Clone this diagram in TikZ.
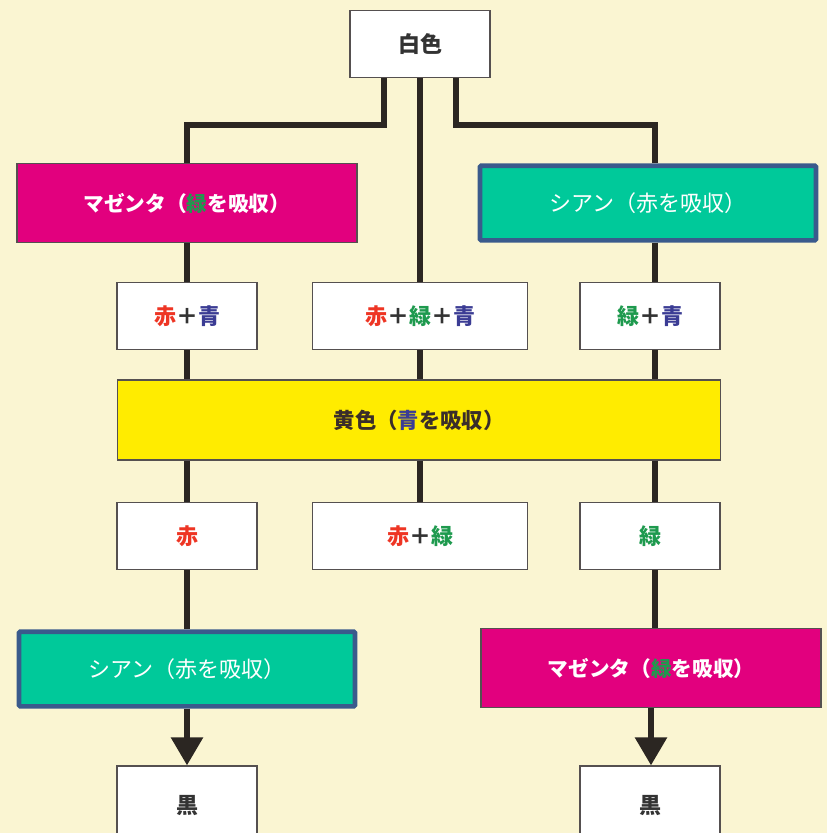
\documentclass[tikz,border=0pt]{standalone}
\usepackage{fontspec}
\setmainfont{Noto Sans CJK JP}
\usetikzlibrary{arrows.meta}
\definecolor{bg}{HTML}{FAF5D2}
\definecolor{mag}{HTML}{E2007E}
\definecolor{cyf}{HTML}{00C99A}
\definecolor{cyb}{HTML}{3A5A8C}
\definecolor{yel}{HTML}{FFEC00}
\definecolor{tred}{HTML}{EE3524}
\definecolor{tgrn}{HTML}{1E9A4E}
\definecolor{tblu}{HTML}{3B3C94}
\definecolor{tdark}{HTML}{333333}
\definecolor{tbrown}{HTML}{3A2E2A}
\definecolor{lnk}{HTML}{2B2622}
\definecolor{edge}{HTML}{555050}
\newcommand{\R}{\textcolor{tred}{赤}}
\newcommand{\G}{\textcolor{tgrn}{緑}}
\newcommand{\B}{\textcolor{tblu}{青}}
\begin{document}
\begin{tikzpicture}[x=0.75pt,y=-0.75pt,
  wbox/.style={draw=edge,line width=0.8pt,fill=white,minimum height=50.5pt,inner sep=0pt,font=\fontsize{16.5}{19}\selectfont\bfseries,text=tdark},
  magbox/.style={draw=edge,line width=0.8pt,fill=mag,minimum width=255pt,minimum height=59pt,inner sep=0pt,font=\fontsize{15.5}{18}\selectfont\bfseries,text=white},
  cybox/.style={draw=cyb,line width=3.5pt,fill=cyf,rounded corners=1pt,minimum width=252pt,minimum height=56pt,inner sep=0pt,font=\fontsize{16.5}{19}\selectfont,text=white},
  ybox/.style={draw=edge,line width=0.8pt,fill=yel,minimum width=452pt,minimum height=60pt,inner sep=0pt,font=\fontsize{16}{19}\selectfont\bfseries,text=tbrown},
  link/.style={draw=lnk,line width=4.8pt},
  arr/.style={link,-{Triangle[width=23pt,length=21pt]}}
]
\fill[bg] (0,0) rectangle (827,833);
\useasboundingbox (0,0) rectangle (827,833);

% row 0
\node[wbox,minimum width=105pt] (white) at (420,44) {白色};
% row 1
\node[magbox] (m1) at (187,203) {マゼンタ（\G を吸収）};
\node[cybox] (c1) at (648,203) {シアン（赤を吸収）};
% row 2
\node[wbox,minimum width=105pt] (rb) at (187,316) {\R＋\B};
\node[wbox,minimum width=161pt] (rgb) at (420,316) {\R＋\G＋\B};
\node[wbox,minimum width=105pt] (gb) at (650,316) {\G＋\B};
% yellow
\node[ybox] (y) at (419,420) {黄色（\B を吸収）};
% row 3
\node[wbox,minimum width=105pt] (r) at (187,536) {\R};
\node[wbox,minimum width=161pt] (rg) at (420,536) {\R＋\G};
\node[wbox,minimum width=105pt] (g) at (650,536) {\G};
% row 4
\node[cybox] (c2) at (187,669) {シアン（赤を吸収）};
\node[magbox] (m2) at (651,668) {マゼンタ（\G を吸収）};
% row 5
\node[wbox,minimum width=105pt,minimum height=60pt] (k1) at (187,806) {黒};
\node[wbox,minimum width=105pt,minimum height=60pt] (k2) at (650,806) {黒};

% connectors
\coordinate (wl) at (384,78);
\coordinate (wr) at (456,78);
\coordinate (xr) at (655,0);
\coordinate (xk) at (651,0);
\draw[link] (wl) |- (187,125) -- (m1.north);
\draw[link] (wr) |- (655,125) -- (c1.north -| xr);
\draw[link] (white.south) -- (rgb.north);
\draw[link] (m1.south) -- (rb.north);
\draw[link] (c1.south -| xr) -- (gb.north -| xr);
\draw[link] (rb.south) -- (y.north -| rb.south);
\draw[link] (rgb.south) -- (y.north -| rgb.south);
\draw[link] (gb.south -| xr) -- (y.north -| xr);
\draw[link] (y.south -| r.north) -- (r.north);
\draw[link] (y.south -| rg.north) -- (rg.north);
\draw[link] (y.south -| xr) -- (g.north -| xr);
\draw[link] (r.south) -- (c2.north);
\draw[link] (g.south -| xr) -- (m2.north -| xr);
\draw[arr] (c2.south) -- (k1.north);
\draw[arr] (m2.south -| xk) -- (k2.north -| xk);
\end{tikzpicture}
\end{document}
